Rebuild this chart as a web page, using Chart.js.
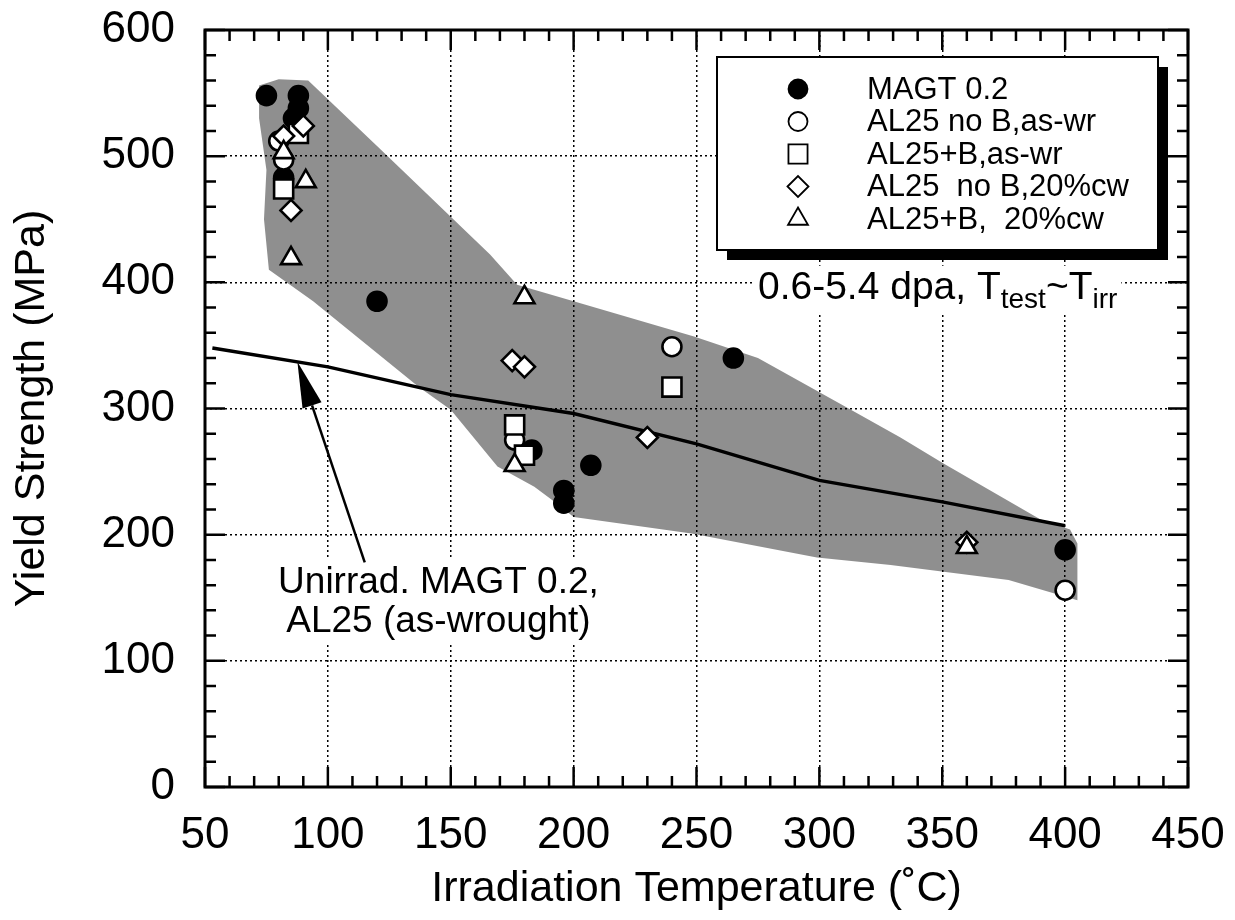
<!DOCTYPE html>
<html>
<head>
<meta charset="utf-8">
<title>Yield Strength vs Irradiation Temperature</title>
<script src="https://cdn.jsdelivr.net/npm/chart.js@4/dist/chart.umd.min.js"></script>
<style>
  body { margin: 0; background: #fff; }
  #wrap { width: 1235px; height: 920px; }
</style>
</head>
<body>
<div id="wrap"><canvas id="ys-graph"></canvas></div>
<script>
// axis ticks
const xTicks = [50, 100, 150, 200, 250, 300, 350, 400, 450];
const yTicks = [0, 100, 200, 300, 400, 500, 600];

// legend labels
const seriesLabels = ["MAGT 0.2", "AL25 no B,as-wr", "AL25+B,as-wr", "AL25  no B,20%cw", "AL25+B,  20%cw"];

// [temperature, yield strength]
const magt = [[75, 548], [88, 548], [88, 538], [86, 530], [82, 483], [120, 385], [183, 267], [196, 235], [196, 225], [207, 255], [265, 340], [400, 188]];
const noBAsWr = [[80, 512], [82, 497], [176, 275], [240, 349], [400, 156]];
const plusBAsWr = [[82, 474], [88, 518], [176, 287], [180, 263], [240, 317]];
const noBCw = [[82, 516], [90, 524], [85, 457], [175, 338], [180, 333], [230, 277], [360, 194]];
const plusBCw = [[82, 503], [91, 480], [85, 419], [180, 388], [176, 255], [360, 190]];

// unirradiated MAGT 0.2 / AL25 curve
const unirrad = [[53, 348], [100, 333], [150, 311], [200, 296], [250, 272], [300, 243], [350, 226], [400, 207]];

// scatter band outline (upper edge then lower edge)
const bandUpper = [[72, 556], [80, 561], [92, 560], [120, 508], [150, 452], [166, 422], [177, 398], [200, 385], [249, 357], [275, 340], [311, 301], [333, 277], [350, 257], [390, 212], [402, 204], [405, 193]];
const bandLower = [[405, 148], [377, 164], [329, 176], [299, 182], [248, 201], [200, 214], [193, 225], [184, 238], [169, 254], [150, 299], [137, 317], [94, 385], [76, 410], [74, 450], [75, 489], [72, 530]];

// annotation anchors (data units)
const dpaPos = [275, 387];
const unirradTextPos = [145, 154];
const arrowTail = [115, 178];
const arrowTip = [87.6, 337];

const FONT = '"Liberation Sans", Arial, Helvetica, sans-serif';

const toXY = arr => arr.map(p => ({ x: p[0], y: p[1] }));

const markerStyles = [
  { pointStyle: 'circle', radius: 9.5, fill: '#000' },
  { pointStyle: 'circle', radius: 9.5, fill: '#fff' },
  { pointStyle: 'rect', radius: 13.5, fill: '#fff' },
  { pointStyle: 'rectRot', radius: 10.5, fill: '#fff' },
  { pointStyle: 'triangle', radius: 11.5, fill: '#fff' }
];

function markerDataset(i, data) {
  const s = markerStyles[i];
  return {
    label: seriesLabels[i],
    data: toXY(data),
    pointStyle: s.pointStyle,
    pointRadius: s.radius,
    pointBackgroundColor: s.fill,
    pointBorderColor: '#000',
    pointBorderWidth: 2.6,
    order: 5 - i
  };
}

// let layout padding alone decide the plot box
function noScalePadding(scale) {
  scale.paddingTop = 0;
  scale.paddingBottom = 0;
  scale.paddingLeft = 0;
  scale.paddingRight = 0;
}

function drawLegend(ctx, area) {
  const left = area.left + 512, top = area.top + 27;
  const w = 441, h = 193;
  ctx.fillStyle = '#000';
  ctx.fillRect(left + 10, top + 10, w, h);
  ctx.fillStyle = '#fff';
  ctx.fillRect(left, top, w, h);
  ctx.lineWidth = 2;
  ctx.strokeStyle = '#000';
  ctx.strokeRect(left, top, w, h);

  ctx.font = '31px ' + FONT;
  ctx.textBaseline = 'middle';
  ctx.textAlign = 'left';
  seriesLabels.forEach((label, i) => {
    const rowY = top + 32 + i * 32.5;
    const s = markerStyles[i];
    ctx.fillStyle = s.fill;
    ctx.strokeStyle = '#000';
    ctx.lineWidth = 1.8;
    Chart.helpers.drawPoint(ctx, { pointStyle: s.pointStyle, radius: s.radius, rotation: 0, borderWidth: 1.8 }, left + 81, rowY);
    ctx.fillStyle = '#000';
    ctx.fillText(label, left + 150, rowY + 1);
  });
}

function drawAnnotations(ctx, x, y) {
  // dose / test temperature note
  const main = '39px ' + FONT, sub = '28px ' + FONT;
  const parts = [['0.6-5.4 dpa, T', main, 0], ['test', sub, 9], ['~T', main, 0], ['irr', sub, 9]];
  let px = x.getPixelForValue(dpaPos[0]);
  const base = y.getPixelForValue(dpaPos[1]);
  let total = 0;
  parts.forEach(p => { ctx.font = p[1]; total += ctx.measureText(p[0]).width; });
  ctx.fillStyle = '#fff';
  ctx.fillRect(px - 4, base - 33, total + 8, 48);
  ctx.fillStyle = '#000';
  ctx.textAlign = 'left';
  ctx.textBaseline = 'alphabetic';
  parts.forEach(p => {
    ctx.font = p[1];
    ctx.fillText(p[0], px, base + p[2]);
    px += ctx.measureText(p[0]).width;
  });

  // unirradiated label
  const cx = x.getPixelForValue(unirradTextPos[0]);
  const cy = y.getPixelForValue(unirradTextPos[1]);
  ctx.fillStyle = '#fff';
  ctx.fillRect(cx - 176, cy - 33, 352, 83);
  ctx.fillStyle = '#000';
  ctx.font = '37px ' + FONT;
  ctx.textAlign = 'center';
  ctx.fillText('Unirrad. MAGT 0.2,', cx, cy);
  ctx.fillText('AL25 (as-wrought)', cx, cy + 39);

  // arrow
  const tx = x.getPixelForValue(arrowTail[0]), ty = y.getPixelForValue(arrowTail[1]);
  const hx = x.getPixelForValue(arrowTip[0]), hy = y.getPixelForValue(arrowTip[1]);
  const ang = Math.atan2(hy - ty, hx - tx);
  const headLen = 46, headW = 10;
  const bx = hx - Math.cos(ang) * headLen, by = hy - Math.sin(ang) * headLen;
  ctx.strokeStyle = '#000';
  ctx.lineWidth = 2.5;
  ctx.beginPath();
  ctx.moveTo(tx, ty);
  ctx.lineTo(bx, by);
  ctx.stroke();
  ctx.beginPath();
  ctx.moveTo(hx, hy);
  ctx.lineTo(bx + Math.sin(ang) * headW, by - Math.cos(ang) * headW);
  ctx.lineTo(bx - Math.sin(ang) * headW, by + Math.cos(ang) * headW);
  ctx.closePath();
  ctx.fillStyle = '#000';
  ctx.fill();
}

const framePlugin = {
  id: 'frame',
  afterDatasetsDraw(chart) {
    const { ctx, chartArea: a, scales: { x, y } } = chart;
    ctx.save();
    // inward ticks on all four sides
    ctx.strokeStyle = '#000';
    ctx.lineWidth = 2.5;
    ctx.beginPath();
    for (let v = 50; v <= 450; v += 10) {
      const px = x.getPixelForValue(v);
      const len = v % 50 === 0 ? 20 : 11;
      ctx.moveTo(px, a.bottom); ctx.lineTo(px, a.bottom - len);
      ctx.moveTo(px, a.top); ctx.lineTo(px, a.top + len);
    }
    for (let v = 0; v <= 600; v += 20) {
      const py = y.getPixelForValue(v);
      const len = v % 100 === 0 ? 20 : 11;
      ctx.moveTo(a.left, py); ctx.lineTo(a.left + len, py);
      ctx.moveTo(a.right, py); ctx.lineTo(a.right - len, py);
    }
    ctx.stroke();
    ctx.lineWidth = 3;
    ctx.strokeRect(a.left, a.top, a.right - a.left, a.bottom - a.top);

    drawAnnotations(ctx, x, y);
    drawLegend(ctx, a);
    ctx.restore();
  }
};

function ysGraph() {
  const graphId = document.getElementById('ys-graph');

  new Chart(graphId, {
    type: 'scatter',
    data: {
      datasets: [
        {
          label: 'band',
          data: toXY(bandUpper.concat(bandLower)),
          showLine: true,
          fill: 'shape',
          backgroundColor: 'rgba(0,0,0,0.44)',
          borderColor: 'rgba(0,0,0,0)',
          borderWidth: 0,
          pointRadius: 0,
          order: 7
        },
        {
          label: 'Unirrad. MAGT 0.2, AL25 (as-wrought)',
          data: toXY(unirrad),
          showLine: true,
          fill: false,
          borderColor: '#000',
          borderWidth: 3.5,
          pointRadius: 0,
          order: 6
        },
        markerDataset(0, magt),
        markerDataset(1, noBAsWr),
        markerDataset(2, plusBAsWr),
        markerDataset(3, noBCw),
        markerDataset(4, plusBCw)
      ]
    },
    options: {
      responsive: true,
      maintainAspectRatio: false,
      animation: false,
      events: [],
      layout: { padding: { top: 30, right: 47, left: 0, bottom: 0 } },
      plugins: {
        legend: { display: false },
        tooltip: { enabled: false }
      },
      scales: {
        x: {
          type: 'linear',
          min: 50,
          max: 450,
          afterBuildTicks: scale => { scale.ticks = xTicks.map(v => ({ value: v })); },
          afterFit: scale => { scale.height = 133; noScalePadding(scale); },
          ticks: { font: { family: FONT, size: 44 }, color: '#000', padding: 22, maxRotation: 0, autoSkip: false },
          grid: { color: '#000', lineWidth: 1.5, drawTicks: false },
          border: { display: false, dash: [2, 3] },
          title: { display: true, text: 'Irradiation Temperature (˚C)', color: '#000', font: { family: FONT, size: 43 }, padding: { top: 0, bottom: 5 } }
        },
        y: {
          type: 'linear',
          min: 0,
          max: 600,
          afterBuildTicks: scale => { scale.ticks = yTicks.map(v => ({ value: v })); },
          afterFit: scale => { scale.width = 205; noScalePadding(scale); },
          ticks: { font: { family: FONT, size: 44 }, color: '#000', padding: 30 },
          grid: { color: '#000', lineWidth: 1.5, drawTicks: false },
          border: { display: false, dash: [2, 3] },
          title: { display: true, text: 'Yield Strength (MPa)', color: '#000', font: { family: FONT, size: 43 }, padding: { top: 6, bottom: 0 } }
        }
      }
    },
    plugins: [framePlugin]
  });
}

window.addEventListener('load', ysGraph);
</script>
</body>
</html>
